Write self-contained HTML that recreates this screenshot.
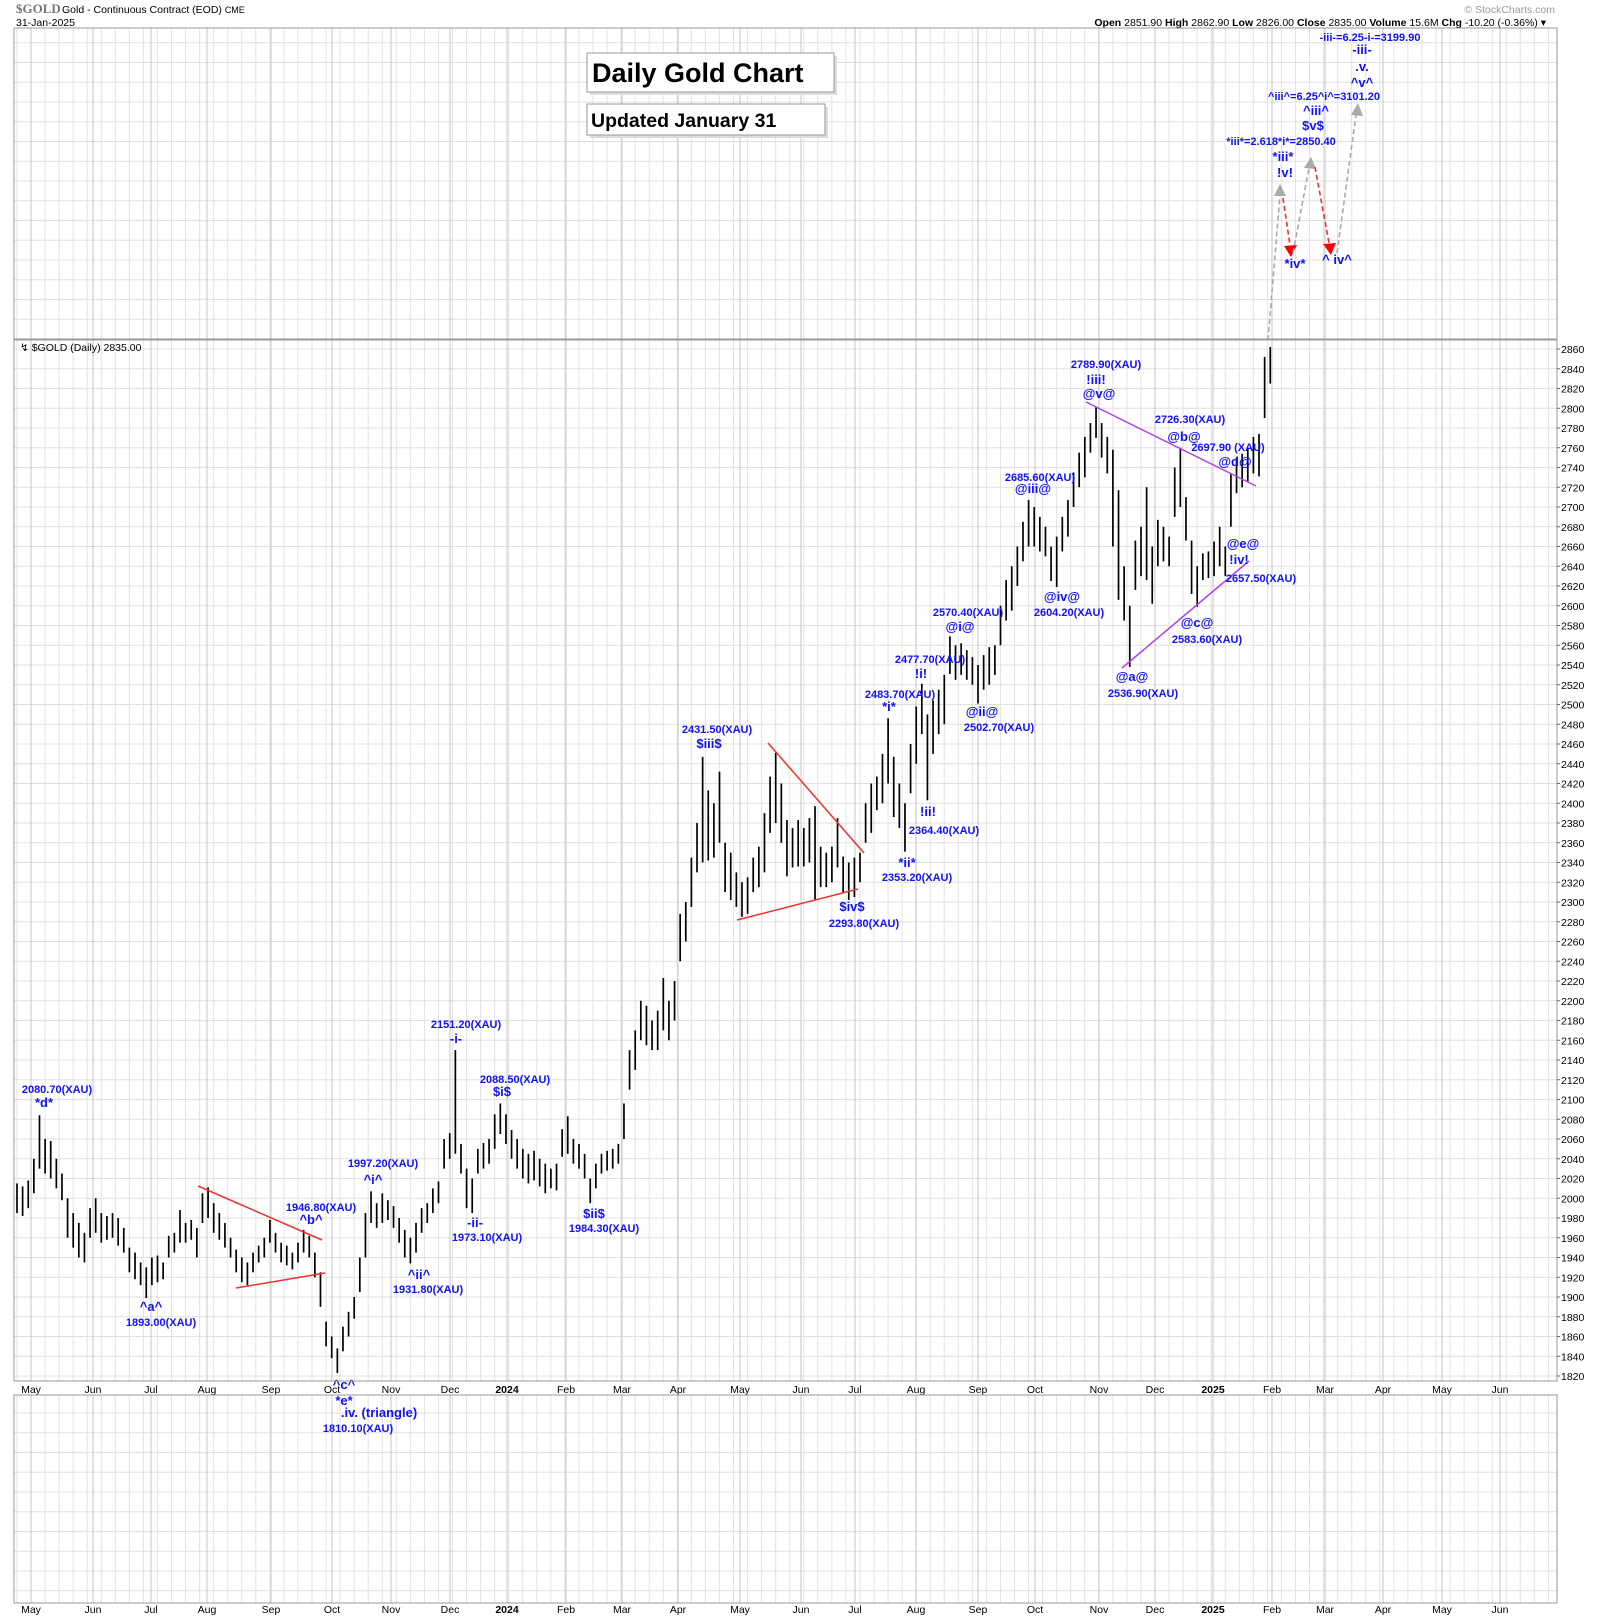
<!DOCTYPE html>
<html><head><meta charset="utf-8"><style>
html,body{margin:0;padding:0;background:#fff;}
svg{display:block;font-family:"Liberation Sans",Arial,sans-serif;}
.lb{font-size:11px;font-weight:bold;fill:#1010ff;text-anchor:middle;}
.wv{font-size:13px;font-weight:bold;fill:#1010ff;text-anchor:middle;}
.ax{font-size:10.5px;fill:#000;}
</style></head><body>
<svg id="chart" width="1600" height="1620" viewBox="0 0 1600 1620">
<g id="grid"></g>
<g>
<text x="16" y="13" font-family="Liberation Serif,serif" font-weight="bold" font-size="13" fill="#777">$GOLD</text>
<text x="62" y="13" font-size="10.5">Gold - Continuous Contract (EOD) <tspan font-size="9">CME</tspan></text>
<text x="16" y="26" font-size="10.5">31-Jan-2025</text>
<text x="1555" y="13" font-size="10.5" fill="#999" text-anchor="end">© StockCharts.com</text>
<text x="1546" y="26" font-size="10.5" text-anchor="end"><tspan font-weight="bold">Open</tspan> 2851.90 <tspan font-weight="bold">High</tspan> 2862.90 <tspan font-weight="bold">Low</tspan> 2826.00 <tspan font-weight="bold">Close</tspan> 2835.00 <tspan font-weight="bold">Volume</tspan> 15.6M <tspan font-weight="bold">Chg</tspan> -10.20 (-0.36%) ▾</text>
</g>
<g>
<rect x="590" y="56" width="247" height="39" fill="#ddd"/>
<rect x="587" y="53" width="247" height="39" fill="#fff" stroke="#999"/>
<text x="592" y="82" font-size="27" font-weight="bold">Daily Gold Chart</text>
<rect x="590" y="107" width="238" height="31" fill="#ddd"/>
<rect x="587" y="104" width="238" height="31" fill="#fff" stroke="#999"/>
<text x="591" y="127" font-size="19.5" font-weight="bold">Updated January 31</text>
</g>
<text x="20" y="351" font-size="10.5">↯ $GOLD (Daily) 2835.00</text>
<g id="bars"></g>
<g>
<line x1="198" y1="1186" x2="322" y2="1240" stroke="#f03030" stroke-width="1.5"/>
<line x1="236" y1="1288" x2="325" y2="1273" stroke="#f03030" stroke-width="1.5"/>
<line x1="768" y1="743" x2="864" y2="853" stroke="#f03030" stroke-width="1.5"/>
<line x1="737" y1="920" x2="858" y2="889" stroke="#f03030" stroke-width="1.5"/>
<line x1="1086" y1="402" x2="1256" y2="486" stroke="#b040f0" stroke-width="1.5"/>
<line x1="1122" y1="668" x2="1249" y2="561" stroke="#b040f0" stroke-width="1.5"/>
</g>
<g stroke-width="1.6" stroke-dasharray="5,3" fill="none">
<line x1="1268" y1="340" x2="1280" y2="195" stroke="#aaa"/>
<polygon points="1280,184 1274,196 1286,196" fill="#aaa" stroke="none"/>
<line x1="1283" y1="198" x2="1290" y2="245" stroke="#f03030"/>
<polygon points="1291,257 1284,246 1297,245" fill="#f00" stroke="none"/>
<line x1="1293" y1="253" x2="1309" y2="168" stroke="#aaa"/>
<polygon points="1311,157 1304,168 1316,169" fill="#aaa" stroke="none"/>
<line x1="1315" y1="167" x2="1329" y2="243" stroke="#f03030"/>
<polygon points="1331,255 1323,244 1336,243" fill="#f00" stroke="none"/>
<line x1="1337" y1="253" x2="1356" y2="115" stroke="#aaa"/>
<polygon points="1358,103 1351,115 1363,116" fill="#aaa" stroke="none"/>
</g>
<g>
<text class="lb" x="1370" y="41">-iii-=6.25-i-=3199.90</text>
<text class="wv" x="1362" y="54" font-size="14">-iii-</text>
<text class="wv" x="1362" y="71">.v.</text>
<text class="wv" x="1362" y="87">^v^</text>
<text class="lb" x="1324" y="100">^iii^=6.25^i^=3101.20</text>
<text class="wv" x="1316" y="115">^iii^</text>
<text class="wv" x="1313" y="130">$v$</text>
<text class="lb" x="1281" y="145">*iii*=2.618*i*=2850.40</text>
<text class="wv" x="1283" y="161">*iii*</text>
<text class="wv" x="1285" y="177">!v!</text>
<text class="wv" x="1295" y="268">*iv*</text>
<text class="wv" x="1337" y="264">^ iv^</text>
<text class="lb" x="57" y="1093">2080.70(XAU)</text><text class="wv" x="44" y="1107">*d*</text>
<text class="wv" x="151" y="1311">^a^</text><text class="lb" x="161" y="1326">1893.00(XAU)</text>
<text class="lb" x="321" y="1211">1946.80(XAU)</text><text class="wv" x="311" y="1224">^b^</text>
<text class="lb" x="383" y="1167">1997.20(XAU)</text><text class="wv" x="373" y="1184">^i^</text>
<text class="wv" x="419" y="1279">^ii^</text><text class="lb" x="428" y="1293">1931.80(XAU)</text>
<text class="lb" x="466" y="1028">2151.20(XAU)</text><text class="wv" x="456" y="1043">-i-</text>
<text class="wv" x="475" y="1227">-ii-</text><text class="lb" x="487" y="1241">1973.10(XAU)</text>
<text class="lb" x="515" y="1083">2088.50(XAU)</text><text class="wv" x="502" y="1096">$i$</text>
<text class="wv" x="594" y="1218">$ii$</text><text class="lb" x="604" y="1232">1984.30(XAU)</text>
<text class="wv" x="344" y="1389">^c^</text><text class="wv" x="344" y="1405">*e*</text>
<text class="wv" x="379" y="1417" font-size="15">.iv. (triangle)</text><text class="lb" x="358" y="1432">1810.10(XAU)</text>
<text class="lb" x="717" y="733">2431.50(XAU)</text><text class="wv" x="709" y="748">$iii$</text>
<text class="wv" x="852" y="911">$iv$</text><text class="lb" x="864" y="927">2293.80(XAU)</text>
<text class="lb" x="900" y="698">2483.70(XAU)</text><text class="wv" x="889" y="711">*i*</text>
<text class="wv" x="928" y="816">!ii!</text><text class="lb" x="944" y="834">2364.40(XAU)</text>
<text class="wv" x="907" y="867">*ii*</text><text class="lb" x="917" y="881">2353.20(XAU)</text>
<text class="lb" x="930" y="663">2477.70(XAU)</text><text class="wv" x="921" y="678">!i!</text>
<text class="lb" x="968" y="616">2570.40(XAU)</text><text class="wv" x="960" y="631">@i@</text>
<text class="wv" x="982" y="716">@ii@</text><text class="lb" x="999" y="731">2502.70(XAU)</text>
<text class="lb" x="1040" y="481">2685.60(XAU)</text><text class="wv" x="1033" y="493">@iii@</text>
<text class="wv" x="1062" y="601">@iv@</text><text class="lb" x="1069" y="616">2604.20(XAU)</text>
<text class="lb" x="1106" y="368">2789.90(XAU)</text><text class="wv" x="1096" y="384">!iii!</text><text class="wv" x="1099" y="398">@v@</text>
<text class="lb" x="1190" y="423">2726.30(XAU)</text><text class="wv" x="1184" y="441">@b@</text>
<text class="lb" x="1228" y="451">2697.90 (XAU)</text><text class="wv" x="1235" y="466">@d@</text>
<text class="wv" x="1243" y="548">@e@</text><text class="wv" x="1239" y="564">!iv!</text><text class="lb" x="1261" y="582">2657.50(XAU)</text>
<text class="wv" x="1197" y="627">@c@</text><text class="lb" x="1207" y="643">2583.60(XAU)</text>
<text class="wv" x="1132" y="681">@a@</text><text class="lb" x="1143" y="697">2536.90(XAU)</text>
</g>
<g id="axes"></g>
</svg>
<script>
const highs=[2015,2012,2018,2040,2084,2060,2058,2040,2025,2000,1985,1975,1965,1990,2000,1985,1982,1985,1980,1970,1950,1945,1935,1930,1940,1942,1935,1962,1965,1988,1975,1978,1970,2005,2011,1995,1985,1975,1960,1948,1940,1935,1945,1952,1960,1978,1965,1955,1952,1945,1955,1968,1962,1945,1925,1875,1860,1848,1870,1885,1900,1940,1985,2007,1995,2005,1998,1992,1980,1968,1960,1975,1990,1995,2010,2017,2060,2066,2150,2055,2030,2020,2050,2056,2060,2085,2096,2085,2069,2060,2050,2045,2048,2040,2035,2030,2035,2070,2083,2060,2055,2045,2020,2035,2045,2048,2050,2055,2096,2150,2170,2200,2195,2180,2190,2223,2200,2220,2288,2300,2345,2380,2447,2413,2400,2432,2360,2350,2330,2320,2325,2345,2356,2390,2427,2451,2420,2383,2375,2383,2375,2385,2397,2356,2350,2356,2385,2346,2340,2345,2350,2400,2420,2427,2450,2486,2447,2420,2400,2460,2498,2521,2490,2504,2515,2530,2569,2560,2562,2555,2548,2540,2550,2558,2560,2600,2626,2640,2660,2685,2707,2700,2690,2680,2660,2670,2690,2707,2735,2755,2771,2785,2801,2785,2771,2758,2717,2640,2600,2666,2680,2720,2660,2687,2680,2670,2740,2760,2710,2666,2640,2653,2655,2665,2680,2660,2734,2750,2754,2760,2771,2774,2852,2862];
const lows=[1985,1982,1990,2005,2030,2025,2020,2010,1998,1960,1950,1940,1935,1960,1965,1955,1958,1960,1952,1945,1925,1918,1912,1899,1912,1915,1918,1940,1945,1955,1955,1958,1940,1975,1980,1965,1958,1950,1940,1925,1915,1912,1925,1935,1940,1955,1945,1935,1932,1928,1935,1945,1940,1920,1890,1850,1838,1823,1845,1860,1878,1905,1940,1975,1970,1975,1978,1970,1955,1940,1934,1945,1965,1975,1985,1995,2030,2040,2045,2025,1990,1985,2025,2030,2035,2050,2065,2055,2040,2030,2020,2015,2018,2012,2005,2010,2008,2042,2045,2035,2030,2020,1995,2010,2025,2028,2030,2035,2060,2110,2130,2160,2155,2150,2150,2170,2160,2180,2240,2260,2295,2330,2340,2342,2345,2360,2310,2302,2295,2285,2288,2310,2315,2330,2370,2380,2360,2326,2335,2336,2336,2340,2302,2315,2315,2320,2335,2310,2302,2305,2320,2360,2370,2393,2400,2420,2386,2375,2351,2410,2440,2470,2403,2450,2470,2480,2531,2525,2530,2525,2520,2501,2515,2520,2530,2560,2585,2595,2620,2645,2660,2660,2655,2650,2625,2619,2655,2670,2700,2720,2730,2755,2770,2750,2734,2660,2606,2585,2538,2616,2630,2626,2602,2640,2645,2640,2690,2700,2666,2612,2599,2626,2628,2630,2640,2630,2680,2714,2720,2725,2734,2731,2790,2825];
const priceTicks=[2860,2840,2820,2800,2780,2760,2740,2720,2700,2680,2660,2640,2620,2600,2580,2560,2540,2520,2500,2480,2460,2440,2420,2400,2380,2360,2340,2320,2300,2280,2260,2240,2220,2200,2180,2160,2140,2120,2100,2080,2060,2040,2020,2000,1980,1960,1940,1920,1900,1880,1860,1840,1820];
const monthLabels=["May","Jun","Jul","Aug","Sep","Oct","Nov","Dec","2024","Feb","Mar","Apr","May","Jun","Jul","Aug","Sep","Oct","Nov","Dec","2025","Feb","Mar","Apr","May","Jun"];
const monthX=[31,93,151,207,271,332,391,450,507,566,622,678,740,801,855,916,978,1035,1099,1155,1213,1272,1325,1383,1442,1500];

const NS="http://www.w3.org/2000/svg";
const L=14,R=1557,T1=28,B1=339,T2=340,B2=1381,T3=1395,B3=1603;
function y(p){return 349+(2860-p)*0.9875;}
function x(i){return 17+i*5.62;}
function mk(parent,tag,attrs){const e=document.createElementNS(NS,tag);for(const k in attrs)e.setAttribute(k,attrs[k]);parent.appendChild(e);return e;}
const grid=document.getElementById('grid'),bars=document.getElementById('bars'),axes=document.getElementById('axes');
for(let gx=31-14.05;gx<R;gx+=14.05){if(gx<=L)continue;
  for(const [a,b] of [[T1,B1],[T2,B2],[T3,B3]]){const ln=mk(grid,'line',{x1:gx,x2:gx,y1:a,y2:b,stroke:'#e2e2e2','stroke-width':1});
  
  }}
for(let gy=y(2860)-10;gy>T1;gy-=0.9875*20){const ln=mk(grid,'line',{x1:L,x2:R,y1:gy,y2:gy,stroke:'#e0e0e0'});
  
  }
priceTicks.forEach(p=>{const ln=mk(grid,'line',{x1:L,x2:R,y1:y(p),y2:y(p),stroke:'#e0e0e0'});
  
  });
for(let gy=T3+18;gy<B3;gy+=19.75){const ln=mk(grid,'line',{x1:L,x2:R,y1:gy,y2:gy,stroke:'#e0e0e0'});
  
  }
monthX.forEach((mx,k)=>{
  for(const [a,b] of [[T1,B1],[T2,B2],[T3,B3]]){const ln=mk(grid,'line',{x1:mx,x2:mx,y1:a,y2:b,stroke:'#c4c4c4'});
  
  }
  for(const ty of [1393,1613]){const t=mk(axes,'text',{x:mx,y:ty,'text-anchor':'middle',class:'ax'});
  if(/^\d/.test(monthLabels[k]))t.setAttribute('font-weight','bold');
  t.textContent=monthLabels[k];
  
  }
});
for(const [a,b] of [[T1,B1],[T2,B2],[T3,B3]]){const r=mk(axes,'rect',{x:L,y:a,width:R-L,height:b-a,fill:'none',stroke:'#999'});
  
  }
priceTicks.forEach(p=>{mk(axes,'line',{x1:R,x2:R+3,y1:y(p),y2:y(p),stroke:'#666'});
  const t=mk(axes,'text',{x:R+4,y:y(p)+4,class:'ax'});t.textContent=p;
  
  });
highs.forEach((h,i)=>{const b=mk(bars,'line',{x1:x(i),x2:x(i),y1:y(h),y2:y(lows[i]),stroke:'#000','stroke-width':1.7});
  
  });
</script>
</body></html>
